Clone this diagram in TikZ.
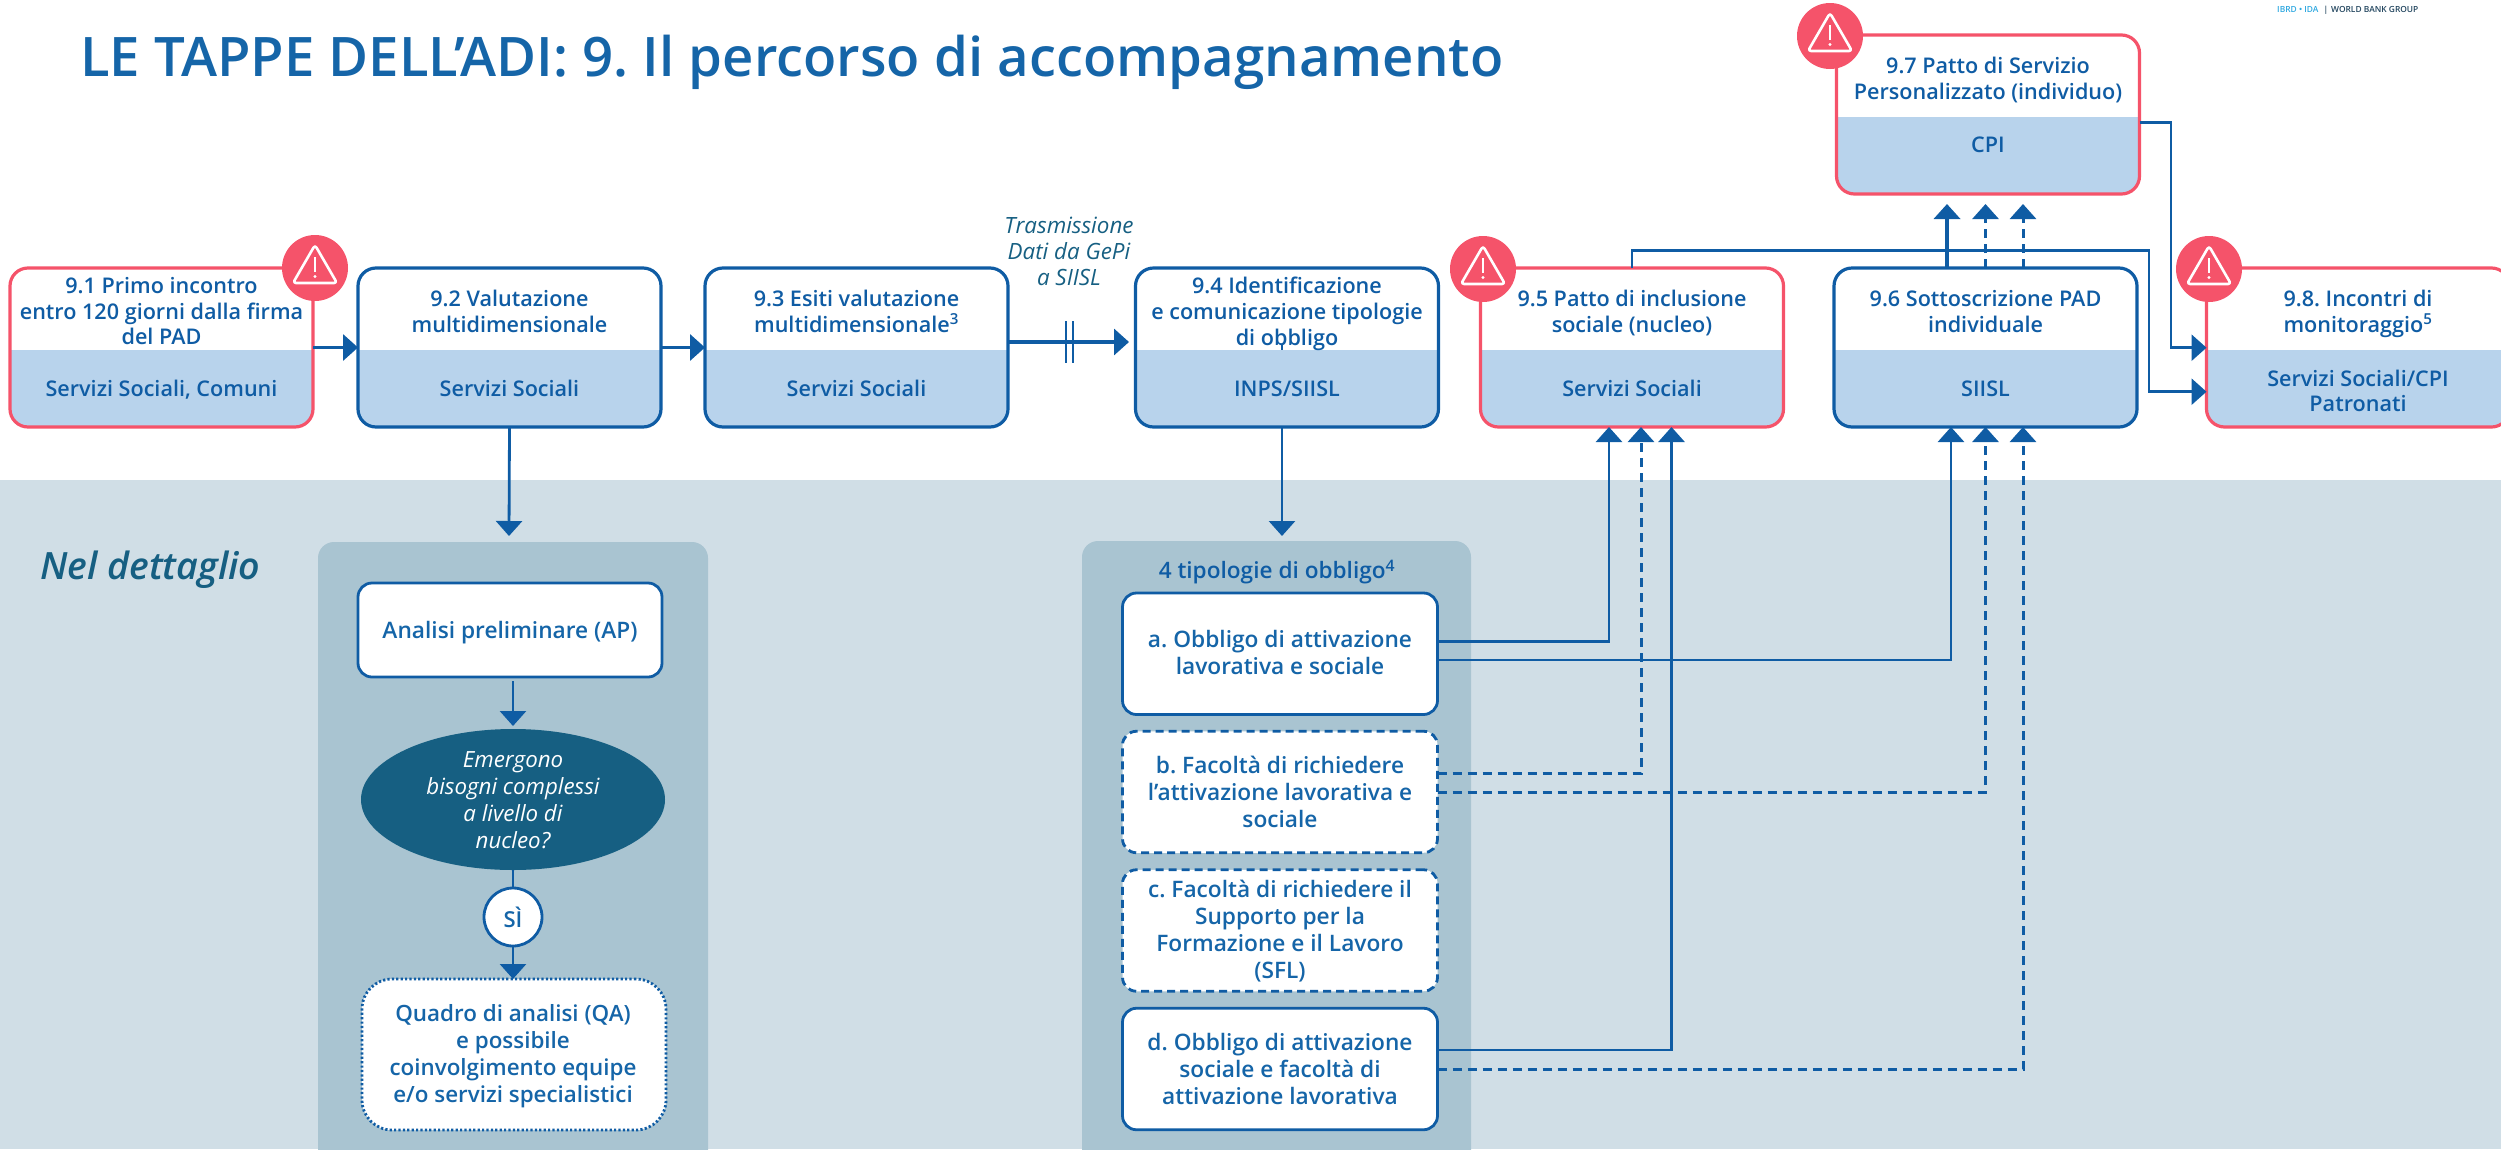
\documentclass[tikz,border=0pt]{standalone}
\usepackage{fontspec}
\setmainfont{Open Sans}
\IfFontExistsTF{Open Sans Semibold}{\newfontfamily\sbf{Open Sans Semibold}}{%
\IfFontExistsTF{OpenSans-SemiBold}{\newfontfamily\sbf{OpenSans-SemiBold}}{%
\newfontfamily\sbf{Open Sans}[FakeBold=4]}}
\usetikzlibrary{arrows.meta,shapes.geometric,calc}
\definecolor{blu}{HTML}{0F5CA4}
\definecolor{blutxt}{HTML}{1565A8}
\definecolor{rosso}{HTML}{F5536A}
\definecolor{banda}{HTML}{B8D3EC}
\definecolor{fondo}{HTML}{D0DEE6}
\definecolor{pannello}{HTML}{A9C4D1}
\definecolor{petrolio}{HTML}{165F82}
\tikzset{
  boxbase/.style={draw,rounded corners=18pt,line width=3.2pt,inner sep=0pt,outer sep=0pt,fill=white},
  bluebox/.style={boxbase,draw=blu},
  redbox/.style={boxbase,draw=rosso},
  steptext/.style={inner sep=0pt,outer sep=0pt,align=center,text=blu,
    font=\sbf\frenchspacing\fontsize{21.6}{25.7}\selectfont,
    execute at begin node=\strut,execute at end node=\strut},
  innertext/.style={inner sep=0pt,outer sep=0pt,align=center,text=blutxt,
    font=\sbf\frenchspacing\fontsize{22.7}{27}\selectfont,
    execute at begin node=\rule{0pt}{28pt},execute at end node=\rule[-8pt]{0pt}{8pt}},
  innerbox/.style={boxbase,draw=blu,line width=2.8pt,rounded corners=14pt,minimum width=315pt,minimum height=121.5pt},
  dashbox/.style={innerbox,dash pattern=on 8pt off 5pt},
  conn/.style={draw=blu,line width=2.8pt},
  dconn/.style={draw=blu,line width=3pt,dash pattern=on 9pt off 6pt},
  tip/.style={-{Triangle[length=15pt,width=26pt]}},
  panel/.style={fill=pannello,rounded corners=16pt,draw=none},
}
\newcommand{\stepnode}[8]{% name, left, top, height, style, top text, bottom text, bottom text y offset
  \node[#5,minimum width=303pt,minimum height=#4 pt,
    path picture={\fill[banda,sharp corners] ([yshift=77pt]path picture bounding box.south west) rectangle (path picture bounding box.south east);}]
    (#1) at ({#2+151.5},{#3+#4/2}) {};
  \node[steptext] (#1top) at ({#2+151.5},{#3+47}) {#6};
  \node[steptext] (#1bot) at ({#2+151.5},{#3+#8}) {#7};
}
\newcommand{\warnicon}[3]{%
  \node[circle,fill=rosso,minimum size=66pt,inner sep=0pt] (#1) at (#2,#3) {};
  \begin{scope}[shift={(#1.center)}]
    \draw[white,line width=2.6pt,line join=round,rounded corners=3pt] (0,-23) -- (22,15) -- (-22,15) -- cycle;
    \draw[white,line width=2.6pt] (0,-11) -- (0,4);
    \fill[white] (0,8.5) circle (1.6pt);
  \end{scope}
}
\begin{document}
\begin{tikzpicture}[x=1pt,y=-1pt]
\useasboundingbox (0,0) rectangle (2501,1149);
\fill[fondo] (0,480) rectangle (2501,1149);
% title
\node[anchor=base west,inner sep=0pt,text=blutxt,font=\sbf\frenchspacing\fontsize{54.5}{60}\selectfont] (title) at (80,76) {LE TAPPE DELL’ADI: 9. Il percorso di accompagnamento};
\node[anchor=base west,inner sep=0pt,text=petrolio,font=\sbf\itshape\fontsize{37.6}{40}\selectfont] (detail) at (40,579) {Nel dettaglio};
\node[anchor=base west,inner sep=0pt,font=\sbf\fontsize{8.4}{10}\selectfont] (logo) at (2277,12) {\textcolor[HTML]{2FA8E0}{IBRD • IDA}\hspace{5pt}\textcolor[HTML]{23465F}{|}\hspace{3pt}\textcolor[HTML]{23465F}{WORLD BANK GROUP}};
% panels
\fill[panel] (318,542) rectangle (708,1175);
\fill[panel] (1082,541) rectangle (1471,1175);
% top row
\stepnode{nA}{10}{268}{159}{redbox}{9.1 Primo incontro\\entro 120 giorni dalla firma\\del PAD}{Servizi Sociali, Comuni}{123}
\stepnode{nB}{358}{268}{159}{bluebox}{9.2 Valutazione\\multidimensionale}{Servizi Sociali}{123}
\stepnode{nC}{705}{268}{159}{bluebox}{9.3 Esiti valutazione\\multidimensionale\textsuperscript{3}}{Servizi Sociali}{123}
\stepnode{nD}{1135.5}{268}{159}{bluebox}{9.4 Identificazione\\e comunicazione tipologie\\di obbligo}{INPS/SIISL}{123}
\stepnode{nE}{1480.5}{268}{159}{redbox}{9.5 Patto di inclusione\\sociale (nucleo)}{Servizi Sociali}{123}
\stepnode{nF}{1834}{268}{159}{bluebox}{9.6 Sottoscrizione PAD\\individuale}{SIISL}{123}
\stepnode{nH}{2206.5}{268}{159}{redbox}{9.8. Incontri di\\monitoraggio\textsuperscript{5}}{Servizi Sociali/CPI\\Patronati}{126.5}
% 9.7 box
\stepnode{nG}{1836.5}{35}{159}{redbox}{9.7 Patto di Servizio\\Personalizzato (individuo)}{CPI}{112.5}
% transmission label
\node[inner sep=0pt,align=center,text=petrolio,font=\itshape\fontsize{22.4}{26}\selectfont] (trans) at (1069,251) {Trasmissione\\Dati da GePi\\a SIISL};
% detail panel 1
\node[bluebox,minimum width=304pt,minimum height=94pt,line width=2.8pt,rounded corners=14pt] (ap) at (510,630) {};
\node[innertext] (aptext) at (510,628) {Analisi preliminare (AP)};
\node[ellipse,fill=petrolio,minimum width=304pt,minimum height=141pt,inner sep=0pt] (ell) at (513,799.5) {};
\node[innertext,text=white,font=\itshape\fontsize{22.3}{27}\selectfont] (elltext) at (513,804) {Emergono\\bisogni complessi\\a livello di\\nucleo?};
\node[boxbase,draw=blu,line width=2.8pt,dash pattern=on 2.2pt off 2.2pt,minimum width=304pt,minimum height=151pt,rounded corners=30pt] (qa) at (514,1054.5) {};
\node[innertext,font=\sbf\fontsize{22.4}{27}\selectfont] (qatext) at (513,1057.5) {Quadro di analisi (QA)\\e possibile\\coinvolgimento equipe\\e/o servizi specialistici};
\draw[conn] (ell.south) -- (513,888);
\node[circle,draw=blu,fill=white,line width=2.8pt,minimum size=58pt,inner sep=0pt,text=blutxt,font=\sbf\fontsize{22}{27}\selectfont] (si) at (513,917) {SÌ};
% detail panel 2
\node[inner sep=0pt,text=blu,font=\sbf\fontsize{22.6}{25}\selectfont] (tip4) at (1277,572) {4 tipologie di obbligo\textsuperscript{4}};
\node[innerbox] (oa) at (1280,653.75) {};
\node[innertext] (oatext) at (1280,656.5) {a. Obbligo di attivazione\\lavorativa e sociale};
\node[dashbox] (ob) at (1280,792) {};
\node[innertext] (obtext) at (1280,795.5) {b. Facoltà di richiedere\\l’attivazione lavorativa e\\sociale};
\node[dashbox] (oc) at (1280,930.5) {};
\node[innertext] (octext) at (1280,933.5) {c. Facoltà di richiedere il\\Supporto per la\\Formazione e il Lavoro\\(SFL)};
\node[innerbox] (od) at (1280,1069) {};
\node[innertext] (odtext) at (1280,1072.5) {d. Obbligo di attivazione\\sociale e facoltà di\\attivazione lavorativa};
% connectors top row
\draw[conn,line width=3.4pt,tip] (nA.east) -- (nB.west);
\draw[conn,line width=3.4pt,tip] (nB.east) -- (nC.west);
\coordinate (cdEnd) at (1129,342);
\draw[conn,line width=3.4pt,tip] (nC.east |- cdEnd) -- (cdEnd);
\coordinate (tickA) at (1066,321); \coordinate (tickB) at (1073,321);
\draw[conn,line width=2pt] (tickA) -- ++(0,42);
\draw[conn,line width=2pt] (tickB) -- ++(0,42);
\coordinate (apUp) at (509,536);
\draw[conn,tip] (nB.south) -- (apUp);
\coordinate (obUp) at (1282,536);
\draw[conn,tip] (nD.south -| obUp) -- (obUp);
\draw[conn,line width=2pt] (1282,345) -- (1282,350);
% panel 1 connectors
\coordinate (apOut) at (513,681); \coordinate (ellIn) at (513,726);
\draw[conn,tip] (apOut) -- (ellIn);
\draw[conn,tip] (si.south) -- (513,979);
% obbligo connectors
\coordinate (ja) at (1609,641.5);
\draw[conn,tip] (oa.east |- ja) -- (ja) -- (nE.south -| ja);
\coordinate (jb) at (1951,660);
\draw[conn,tip] (oa.east |- jb) -- (jb) -- (nF.south -| jb);
\coordinate (jc) at (1641,773);
\draw[dconn,tip] (ob.east |- jc) -- (jc) -- (nE.south -| jc);
\coordinate (jd) at (1985.5,792);
\draw[dconn,tip] (ob.east |- jd) -- (jd) -- (nF.south -| jd);
\coordinate (je) at (1671.5,1050);
\draw[conn,tip] (od.east |- je) -- (je) -- (nE.south -| je);
\coordinate (jf) at (2023,1069);
\draw[dconn,tip] (od.east |- jf) -- (jf) -- (nF.south -| jf);
% 9.6 -> 9.7
\coordinate (ua) at (1947,204); \coordinate (ub) at (1985.5,204); \coordinate (uc) at (2023,204);
\draw[conn,line width=3.8pt,tip] (nF.north -| ua) -- (ua);
\draw[dconn,tip] (nF.north -| ub) -- (ub);
\draw[dconn,tip] (nF.north -| uc) -- (uc);
% 9.5 -> 9.8
\coordinate (ka) at (1632,250.7); \coordinate (kb) at (2149,250.7); \coordinate (kc) at (2149,391.7);
\draw[conn,tip] (nE.north) -- (ka) -- (kb) -- (kc) -- (nH.west |- kc);
% 9.7 -> 9.8
\coordinate (ma) at (2171,122.7); \coordinate (mb) at (2171,347.7);
\draw[conn,tip] (nG.east |- ma) -- (ma) -- (mb) -- (nH.west |- mb);
% warnings
\warnicon{wA}{315}{268}
\warnicon{wG}{1830}{36}
\warnicon{wE}{1483}{269}
\warnicon{wH}{2209}{269}
\end{tikzpicture}
\end{document}
